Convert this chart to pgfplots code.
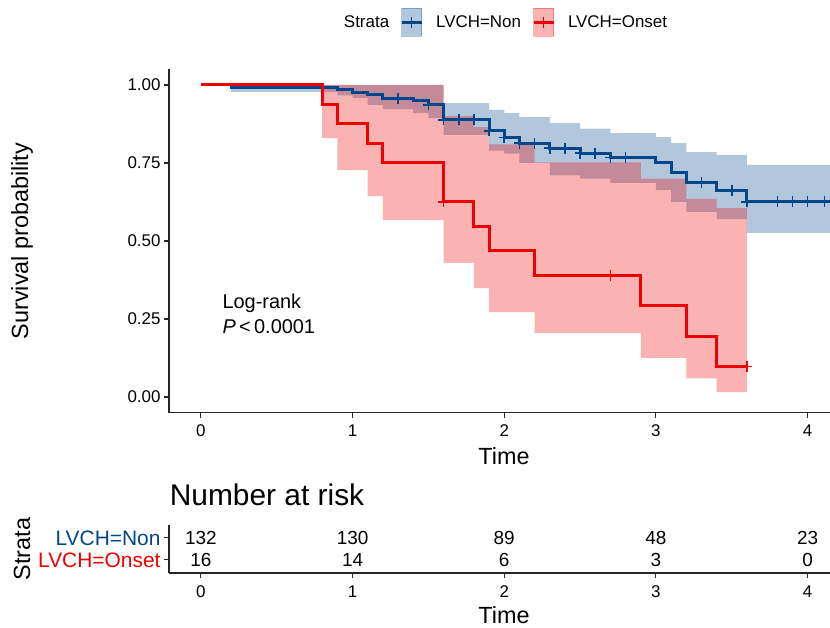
\documentclass[border=0pt]{standalone}
\usepackage{fontspec}
\setmainfont{Liberation Sans}
\usepackage{pgfplots}
\pgfplotsset{compat=1.18}
\definecolor{cnon}{HTML}{00468B}
\definecolor{conset}{HTML}{ED0000}

\pgfplotsset{
  kmaxis/.style={
    scale only axis, width=662bp,
    axis x line*=bottom, axis y line*=left,
    axis line style={black!85, line width=1.1bp},
    tick style={black!85, line width=1.1bp},
    tick align=outside, major tick length=5bp,
    xmin=-0.21, xmax=4.154, xtick={0,1,2,3,4},
    every tick label/.append style={font=\fontsize{17}{20}\selectfont},
    xticklabel style={yshift=-4bp},
    /pgf/number format/assume math mode=true,
    label style={font=\fontsize{23.5}{27}\selectfont},
  }
}

\begin{document}
\begin{tikzpicture}
\path[use as bounding box] (0,0) rectangle (830bp,628bp);

% survival curves
\begin{axis}[kmaxis,
  at={(169bp,215.4bp)}, anchor=south west, height=343.2bp,
  ymin=-0.05, ymax=1.05, ytick={0,0.25,0.5,0.75,1},
  yticklabels={0.00,0.25,0.50,0.75,1.00},
  xlabel={Time}, ylabel={Survival probability},
  xlabel style={at={(axis description cs:0.506,-0.126)}, anchor=center},
  ylabel style={at={(axis description cs:-0.222,0.5)}, anchor=center},
  legend columns=3,
  legend style={draw=none, fill=none, at={(axis description cs:0.5,1.137)}, anchor=center,
    font=\fontsize{17}{20}\selectfont,
    /tikz/every odd column/.append style={column sep=11bp},
    /tikz/every even column/.append style={column sep=9bp}},
]
\addlegendimage{empty legend}
\addlegendentry{Strata}
\addlegendimage{legend image code/.code={
  \fill[cnon, opacity=0.3] (0bp,-14bp) rectangle (20bp,14bp);
  \draw[cnon, line width=3bp] (0bp,0bp) -- (20bp,0bp);
  \draw[cnon, line width=1.6bp] (10bp,-5.5bp) -- (10bp,5.5bp);}}
\addlegendentry{LVCH=Non}
\addlegendimage{legend image code/.code={
  \fill[conset, opacity=0.3] (0bp,-14bp) rectangle (20bp,14bp);
  \draw[conset, line width=3bp] (0bp,0bp) -- (20bp,0bp);
  \draw[conset, line width=1.6bp] (10bp,-5.5bp) -- (10bp,5.5bp);}}
\addlegendentry{LVCH=Onset}

% confidence band, LVCH=Non (upper edge forward, lower edge back)
\addplot[fill=cnon, fill opacity=0.3, draw=none, forget plot] coordinates {
  (0.2,1) (1.6,1) (1.6,0.942) (1.9,0.942) (1.9,0.92) (2.0,0.92) (2.0,0.91)
  (2.1,0.91) (2.1,0.897) (2.3,0.897) (2.3,0.878) (2.5,0.878) (2.5,0.86)
  (2.7,0.86) (2.7,0.846) (3.0,0.846) (3.0,0.833) (3.1,0.833) (3.1,0.814)
  (3.2,0.814) (3.2,0.785) (3.4,0.785) (3.4,0.776) (3.6,0.776) (3.6,0.744)
  (4.2,0.744)
  (4.2,0.526) (3.6,0.526) (3.6,0.57) (3.4,0.57) (3.4,0.593) (3.2,0.593)
  (3.2,0.625) (3.1,0.625) (3.1,0.663) (3.0,0.663) (3.0,0.686) (2.7,0.686)
  (2.7,0.70) (2.5,0.70) (2.5,0.71) (2.3,0.71) (2.3,0.75) (2.1,0.75)
  (2.1,0.78) (2.0,0.78) (2.0,0.79) (1.9,0.79) (1.9,0.84) (1.6,0.84)
  (1.6,0.894) (1.5,0.894) (1.5,0.91) (1.4,0.91) (1.4,0.923) (1.2,0.923)
  (1.2,0.936) (1.1,0.936) (1.1,0.958) (1.0,0.958) (1.0,0.967) (0.9,0.967)
  (0.9,0.978) (0.2,0.978)} --cycle;

% confidence band, LVCH=Onset
\addplot[fill=conset, fill opacity=0.3, draw=none, forget plot] coordinates {
  (0.8,1) (1.6,1) (1.6,0.9) (1.8,0.9) (1.8,0.865) (1.9,0.865) (1.9,0.81)
  (2.2,0.81) (2.2,0.752) (2.9,0.752) (2.9,0.70) (3.2,0.70) (3.2,0.635)
  (3.4,0.635) (3.4,0.605) (3.6,0.605)
  (3.6,0.016) (3.4,0.016) (3.4,0.06) (3.2,0.06) (3.2,0.125) (2.9,0.125)
  (2.9,0.205) (2.2,0.205) (2.2,0.272) (1.9,0.272) (1.9,0.349) (1.8,0.349)
  (1.8,0.43) (1.6,0.43) (1.6,0.567) (1.2,0.567) (1.2,0.644) (1.1,0.644)
  (1.1,0.727) (0.9,0.727) (0.9,0.83) (0.8,0.83)} --cycle;

% survival estimates
\addplot[cnon, line width=3bp, const plot, forget plot] coordinates {
  (0,1) (0.2,0.992) (0.9,0.985) (1.0,0.977) (1.1,0.968) (1.2,0.958)
  (1.4,0.950) (1.5,0.936) (1.6,0.888) (1.9,0.853) (2.0,0.832) (2.1,0.814)
  (2.3,0.798) (2.5,0.782) (2.7,0.768) (3.0,0.752) (3.1,0.718) (3.2,0.686)
  (3.4,0.663) (3.6,0.625) (4.2,0.625)};
\addplot[conset, line width=3bp, const plot, forget plot] coordinates {
  (0,1) (0.8,0.9375) (0.9,0.875) (1.1,0.8125) (1.2,0.75) (1.6,0.625)
  (1.8,0.547) (1.9,0.469) (2.2,0.391) (2.9,0.293) (3.2,0.195) (3.4,0.098)
  (3.6,0.098)};

% censoring marks
\addplot[cnon, only marks, mark=+, mark size=5.5bp, mark options={line width=1.6bp}, forget plot] coordinates {
  (1.3,0.958) (1.5,0.936) (1.6,0.888) (1.7,0.888) (1.8,0.888) (1.9,0.853)
  (2.0,0.832) (2.1,0.814) (2.2,0.814) (2.3,0.798) (2.4,0.798) (2.5,0.782)
  (2.6,0.782) (2.7,0.768) (2.8,0.768) (3.3,0.686) (3.5,0.663) (3.6,0.625)
  (3.8,0.625) (3.9,0.625) (4.0,0.625) (4.11,0.625)};
\addplot[conset, only marks, mark=+, mark size=5.5bp, mark options={line width=1.6bp}, forget plot] coordinates {
  (1.6,0.625) (2.7,0.391) (3.6,0.098)};

\node[anchor=west, align=left, font=\fontsize{20}{25}\selectfont] at (axis cs:0.12,0.265)
  {Log-rank\\\textit{P}\,<\,0.0001};
\end{axis}

% number at risk
\begin{axis}[kmaxis,
  at={(169bp,55bp)}, anchor=south west, height=48.4bp,
  ymin=0.4, ymax=2.6, ytick={1,2},
  yticklabels={\textcolor{conset}{LVCH=Onset}, \textcolor{cnon}{LVCH=Non}},
  yticklabel style={font=\fontsize{21}{24}\selectfont},
  xlabel={Time}, ylabel={Strata},
  xlabel style={at={(axis description cs:0.506,-0.868)}, anchor=center},
  ylabel style={at={(axis description cs:-0.222,0.496)}, anchor=center},
  title={Number at risk},
  title style={at={(axis description cs:-0.004,1.5)}, anchor=west, font=\fontsize{30}{34}\selectfont},
]
\addplot[draw=none, nodes near coords, point meta=explicit symbolic,
  every node near coord/.style={anchor=center, font=\fontsize{19}{22}\selectfont}]
  coordinates {(0,2)[132] (1,2)[130] (2,2)[89] (3,2)[48] (4,2)[23]
               (0,1)[16] (1,1)[14] (2,1)[6] (3,1)[3] (4,1)[0]};
\end{axis}
\end{tikzpicture}
\end{document}
